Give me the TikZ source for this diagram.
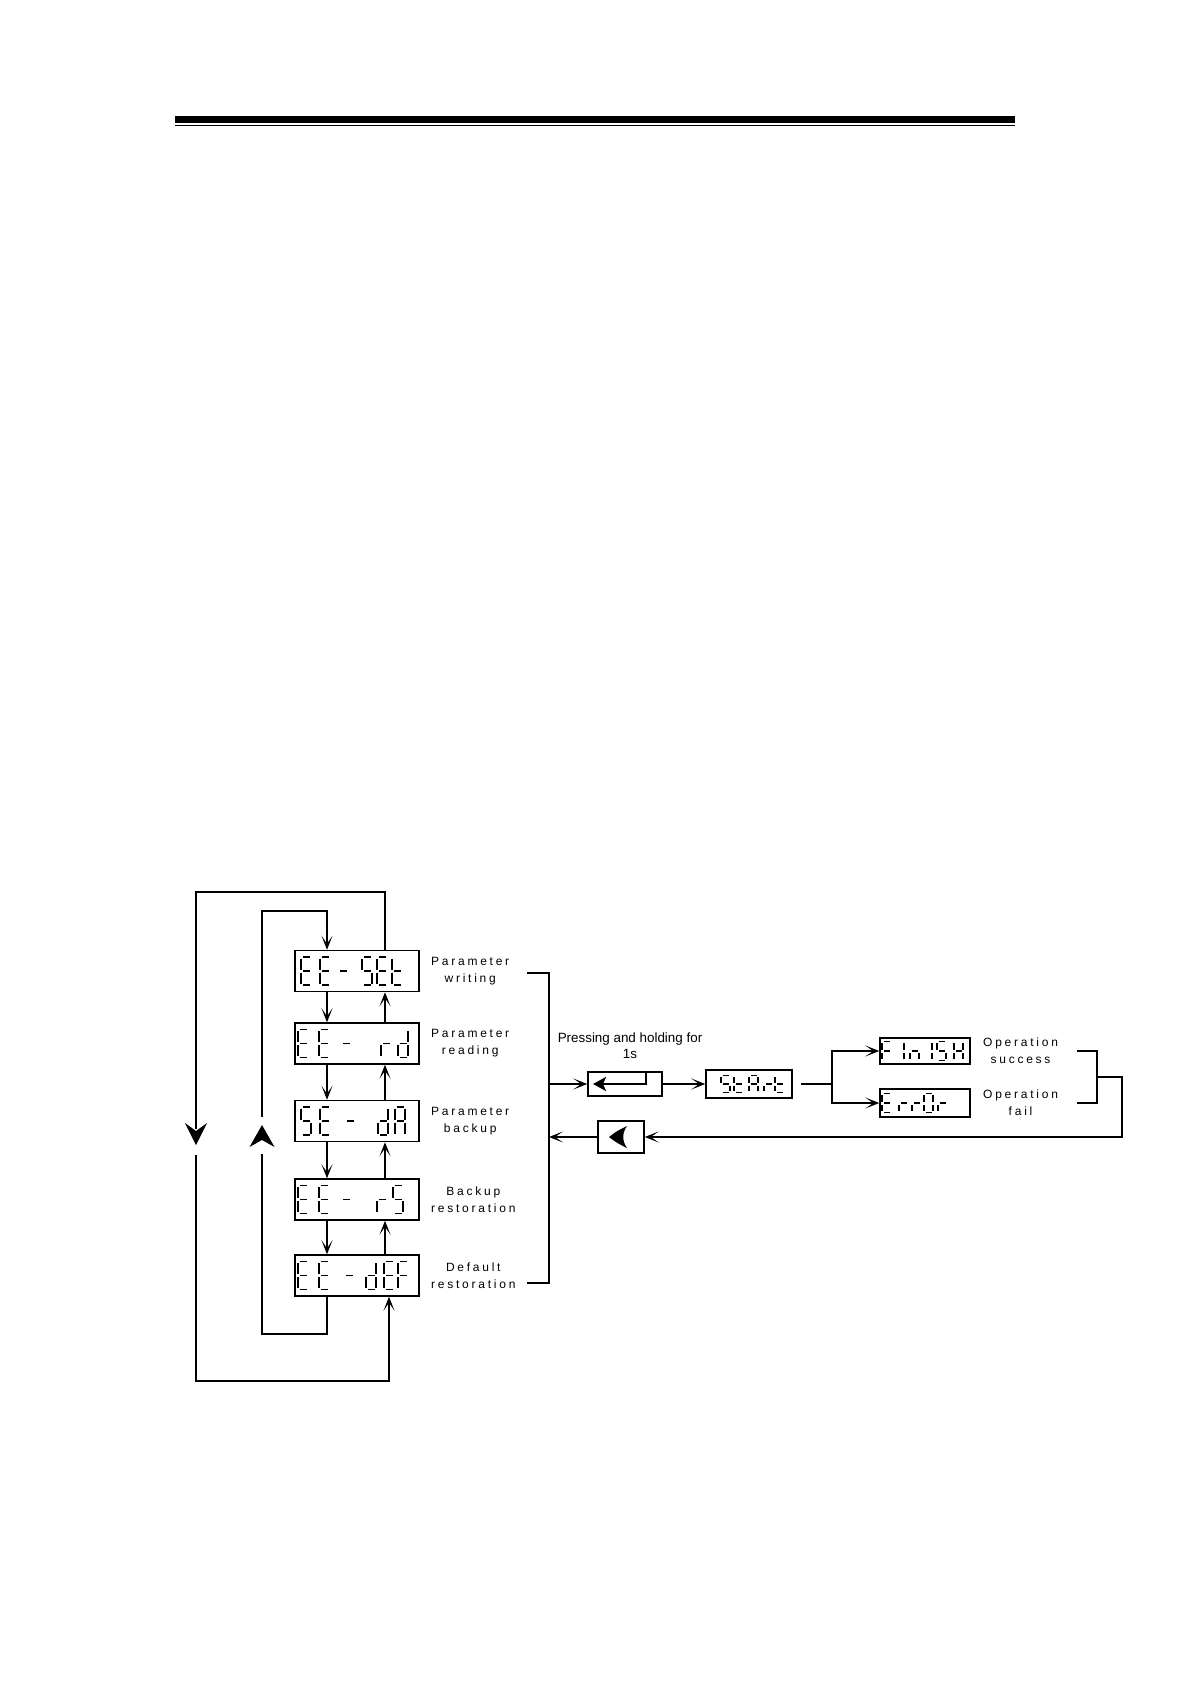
\documentclass[tikz,border=0pt]{standalone}
\usepackage{fontspec}
\setmainfont{Liberation Sans}
\newfontfamily\spacedfont[LetterSpace=23]{Liberation Sans}
\usetikzlibrary{arrows.meta,positioning,calc}

% seven-segment readouts
\newcommand{\seggap}{1.5}
\makeatletter
\newcommand{\segif}[2]{%
  \edef\seg@tmp{\noexpand\in@{#1}{\segcode}}\seg@tmp
  \ifin@\draw[seg] #2;\fi}
\makeatother
\newcommand{\segdigit}{%
  \segif{a}{(\seggap,0) -- ({\segw-\seggap},0)}%
  \segif{b}{(\segw,\seggap) -- (\segw,{\segh/2-\seggap})}%
  \segif{c}{(\segw,{\segh/2+\seggap}) -- (\segw,{\segh-\seggap})}%
  \segif{d}{(\seggap,\segh) -- ({\segw-\seggap},\segh)}%
  \segif{e}{(0,{\segh/2+\seggap}) -- (0,{\segh-\seggap})}%
  \segif{f}{(0,\seggap) -- (0,{\segh/2-\seggap})}%
  \segif{g}{(\seggap,{\segh/2}) -- ({\segw-\seggap},{\segh/2})}%
}
\newcommand{\segdisplay}[4]{% node, digit width, digit height, offset/segments
  \def\segw{#2}\def\segh{#3}%
  \foreach \dx/\segcd in {#4}{%
    \edef\segcode{\segcd}%
    \begin{scope}[shift={($(#1.west)+(\dx,-#3/2)$)}]
      \segdigit
    \end{scope}
  }}

\begin{document}
\begin{tikzpicture}[x=0.5pt, y=-0.5pt,
    line/.style={line width=0.6pt},
    arr/.style={-{Stealth[length=7pt,width=5.5pt,inset=4pt]}},
    disp/.style={draw, line width=0.75pt, inner sep=0pt},
    bigdisp/.style={disp, minimum width=62pt, minimum height=20.5pt},
    seg/.style={line width=0.9pt, line cap=butt},
    lbl/.style={font={\spacedfont\fontsize{6}{8.6}\selectfont}, align=center, inner sep=0pt},
    keymark/.style={fill=black}
  ]
  \useasboundingbox (0,0) rectangle (1190,1684);

  % header rule
  \fill (175,116) rectangle (1015,123);
  \draw[line width=0.7pt] (175,125.5) -- (1015,125.5);

  % menu displays
  \node[bigdisp] (set) at (357,971) {};
  \node[bigdisp] (rd)  at (357,1043.5) {};
  \node[bigdisp] (dA)  at (357,1121) {};
  \node[bigdisp] (rS)  at (357,1199.5) {};
  \node[bigdisp] (def) at (357,1275.5) {};

  \segdisplay{set}{10}{28}{7/adefg,26/adefg,44/g,68/acdfg,83/adefg,98/defg}
  \segdisplay{rd}{10}{28}{4/adefg,25/adefg,47/g,87/eg,104/bcdeg}
  \segdisplay{dA}{10}{28}{7/acdfg,26/adefg,51/g,84/bcdeg,101/abcefg}
  \segdisplay{rS}{10}{28}{4/adefg,25/adefg,47/g,83/eg,99/acdfg}
  \segdisplay{def}{10}{28}{4/adefg,25/adefg,50/g,72/bcdeg,90/adefg,104/aefg}

  \node[lbl, right=5.5pt of set] (setl) {Parameter\\writing};
  \node[lbl, right=5.5pt of rd]  (rdl)  {Parameter\\reading};
  \node[lbl, right=5.5pt of dA]  (dAl)  {Parameter\\backup};
  \node[lbl, right=5.5pt of rS]  (rSl)  {Backup\\restoration};
  \node[lbl, right=5.5pt of def] (defl) {Default\\restoration};

  % up / down between displays
  \coordinate (dnx) at (327,0);
  \coordinate (upx) at (385,0);
  \foreach \a/\b in {set/rd,rd/dA,dA/rS,rS/def}{
    \draw[line,arr] (\a.south -| dnx) -- (\b.north -| dnx);
    \draw[line,arr] (\b.north -| upx) -- (\a.south -| upx);
  }

  % wrap-around loops
  \coordinate (otop) at (196,892);
  \coordinate (obot) at (196,1381);
  \coordinate (omark) at (196,1134);
  \coordinate (ourx) at (389,0);
  \coordinate (itop) at (262,911);
  \coordinate (ibot) at (262,1334);
  \coordinate (imark) at (262,1136);

  \draw[line] (set.north -| upx) |- (otop) -- ($(omark)+(0,-5)$);
  \fill[keymark] ($(omark)+(0,11)$) -- ($(omark)+(-11,-11)$) -- ($(omark)+(0,-3)$) -- ($(omark)+(11,-11)$) -- cycle;
  \draw[line,arr] ($(omark)+(0,21)$) -- (obot) -| (def.south -| ourx);

  \draw[line] (def.south -| dnx) |- (ibot) -- ($(imark)+(0,18)$);
  \fill[keymark] ($(imark)+(0,-11)$) -- ($(imark)+(12.5,11)$) -- ($(imark)+(0,4)$) -- ($(imark)+(-12.5,11)$) -- cycle;
  \draw[line,arr] ($(imark)+(0,-19)$) -- (itop) -| (set.north -| dnx);

  % bracket to the operation
  \coordinate (brt) at (549,973);
  \coordinate (brb) at (549,1283);
  \draw[line] ($(brt)+(-22,0)$) -- (brt) -- (brb) -- ($(brb)+(-22,0)$);

  \node[disp, minimum width=37pt, minimum height=12pt] (enter) at (625,1084) {};
  \node[disp, minimum width=43pt, minimum height=14pt] (start) at (749,1084) {};
  \node[disp, minimum width=45pt, minimum height=13pt] (finish) at (925,1051) {};
  \node[disp, minimum width=45pt, minimum height=14pt] (error) at (925,1103) {};
  \node[disp, minimum width=23pt, minimum height=16pt] (back) at (621,1137) {};

  \segdisplay{start}{9}{17}{16/acdfg,29/defg,44/abcefg,59/eg,70/defg}
  \segdisplay{finish}{9}{19}{3/aefg,25/ef,31/ceg,44/bc,58/acdfg,75/bcefg}
  \segdisplay{error}{9}{19}{3/adefg,20/eg,33/eg,45/abcdef,59/eg}

  % key icons
  \draw[line width=1.3pt, -{Stealth[length=6.5pt,width=7pt,inset=1.5pt]}]
    ($(enter.center)+(21,-11)$) |- ($(enter.center)+(-32,0)$);
  \fill[shift={(back.center)}] (-12,0) .. controls (-4,-6) .. (6,-11)
    .. controls (1,-4) and (1,4) .. (6,11) .. controls (-4,6) .. cycle;

  \node[font={\fontsize{6.7}{8}\selectfont}, align=center] (press) at (630,1046)
    {Pressing and holding for\\1s};
  \node[lbl, right=6pt of finish] (finl) {Operation\\success};
  \node[lbl, right=6pt of error] (errl) {Operation\\fail};

  \draw[line,arr] (enter.west -| brt) -- (enter);
  \draw[line,arr] (enter) -- (start);
  \coordinate (brx) at (832,0);
  \draw[line,arr] ([xshift=4pt]start.east) -- (start.east -| brx) |- (finish);
  \draw[line,arr] (start.east -| brx) |- (error);

  % result bracket back to the menu
  \coordinate (rbt) at (1097,1051);
  \coordinate (rbb) at (1097,1103);
  \draw[line] ($(rbt)+(-20,0)$) -- (rbt) -- (rbb) -- ($(rbb)+(-20,0)$);
  \draw[line,arr] ($(rbt)!0.5!(rbb)$) -- ++(25,0) |- (back);
  \draw[line,arr] (back) -- (back.west -| brt);
\end{tikzpicture}
\end{document}
